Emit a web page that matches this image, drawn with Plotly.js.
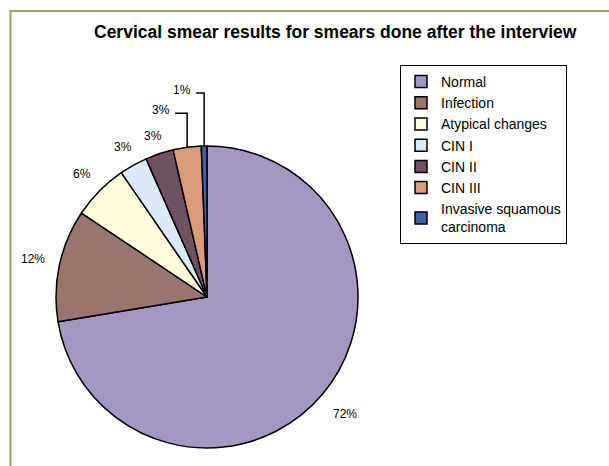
<!DOCTYPE html>
<html>
<head>
<meta charset="utf-8">
<script src="https://cdn.plot.ly/plotly-3.0.1.min.js"></script>
<style>
html,body{margin:0;padding:0;background:#fff;}
#chart{width:609px;height:466px;}
</style>
</head>
<body>
<div id="chart"></div>
<script>
// ---- data ----
const categories = ['Normal', 'Infection', 'Atypical changes', 'CIN I', 'CIN II', 'CIN III', 'Invasive squamous<br>carcinoma'];
const values = [72.3, 12.0, 6.0, 3.0, 3.0, 3.0, 0.6];
const colors = ['#a497c4', '#9a7570', '#fffcdb', '#dceaf8', '#6f5262', '#dd9a7a', '#3f61a0'];
const titleText = 'Cervical smear results for smears done after the interview';

// ---- geometry / style ----
const W = 609, H = 466;
const cx = 207, cy = 297, R = 151;
const labelGap = [30, 27, 24, 21, 19, 0, 0];
const leaderRise = {5: 34, 6: 53};
const leaderRun = {5: 12, 6: 8};
const labelFont = {family: 'Liberation Sans, Arial, sans-serif', size: 12, color: '#000'};
const px = x => x / W;
const py = y => 1 - y / H;

const total = values.reduce((a, b) => a + b, 0);
const annotations = [];
const shapes = [];
let cum = 0;
values.forEach((v, i) => {
  const mid = (cum + v / 2) / total * 2 * Math.PI;
  cum += v;
  const s = Math.sin(mid), c = Math.cos(mid);
  const txt = Math.round(v / total * 100) + '%';
  if (leaderRise[i] !== undefined) {
    const rx = cx + R * s, ry = cy - R * c;
    const ty = ry - leaderRise[i];
    const tx = rx - leaderRun[i];
    shapes.push({type: 'path', xref: 'paper', yref: 'paper',
      path: `M${px(rx)},${py(ry)} L${px(rx)},${py(ty)} L${px(tx)},${py(ty)}`,
      line: {color: '#000', width: 1.5}});
    annotations.push({text: txt, x: px(tx - 3), y: py(ty - 3), xref: 'paper', yref: 'paper',
      xanchor: 'right', yanchor: 'middle', showarrow: false, font: labelFont});
  } else {
    const d = R + labelGap[i];
    annotations.push({text: txt, x: px(cx + d * s), y: py(cy - d * c), xref: 'paper', yref: 'paper',
      xanchor: 'center', yanchor: 'middle', showarrow: false, font: labelFont});
  }
});

// title
annotations.push({text: '<b>' + titleText + '</b>', x: px(335), y: py(32), xref: 'paper', yref: 'paper',
  xanchor: 'center', yanchor: 'middle', showarrow: false,
  font: {family: 'Liberation Sans, Arial, sans-serif', size: 17.5, color: '#000'}});

// frame
shapes.push({type: 'path', xref: 'paper', yref: 'paper',
  path: `M${px(10.5)},${py(470)} L${px(10.5)},${py(11)} L${px(612)},${py(11)}`,
  line: {color: '#98a25a', width: 2}});

const trace = {
  type: 'pie',
  labels: categories,
  values: values,
  sort: false,
  direction: 'clockwise',
  rotation: 0,
  textinfo: 'none',
  marker: {colors: colors, line: {color: '#000', width: 1.5}},
  domain: {x: [px(cx - R), px(cx + R)], y: [1 - (cy + R) / H, 1 - (cy - R) / H]},
  hoverinfo: 'label+percent'
};

const layout = {
  width: W, height: H,
  margin: {l: 0, r: 0, t: 0, b: 0},
  paper_bgcolor: '#fff',
  showlegend: true,
  legend: {
    x: px(400), y: py(65), xanchor: 'left', yanchor: 'top',
    bordercolor: '#000', borderwidth: 1, bgcolor: '#fff',
    font: {family: 'Liberation Sans, Arial, sans-serif', size: 14, color: '#000'},
    tracegroupgap: 0
  },
  annotations: annotations,
  shapes: shapes
};

Plotly.newPlot('chart', [trace], layout, {displayModeBar: false, staticPlot: true});
</script>
</body>
</html>
